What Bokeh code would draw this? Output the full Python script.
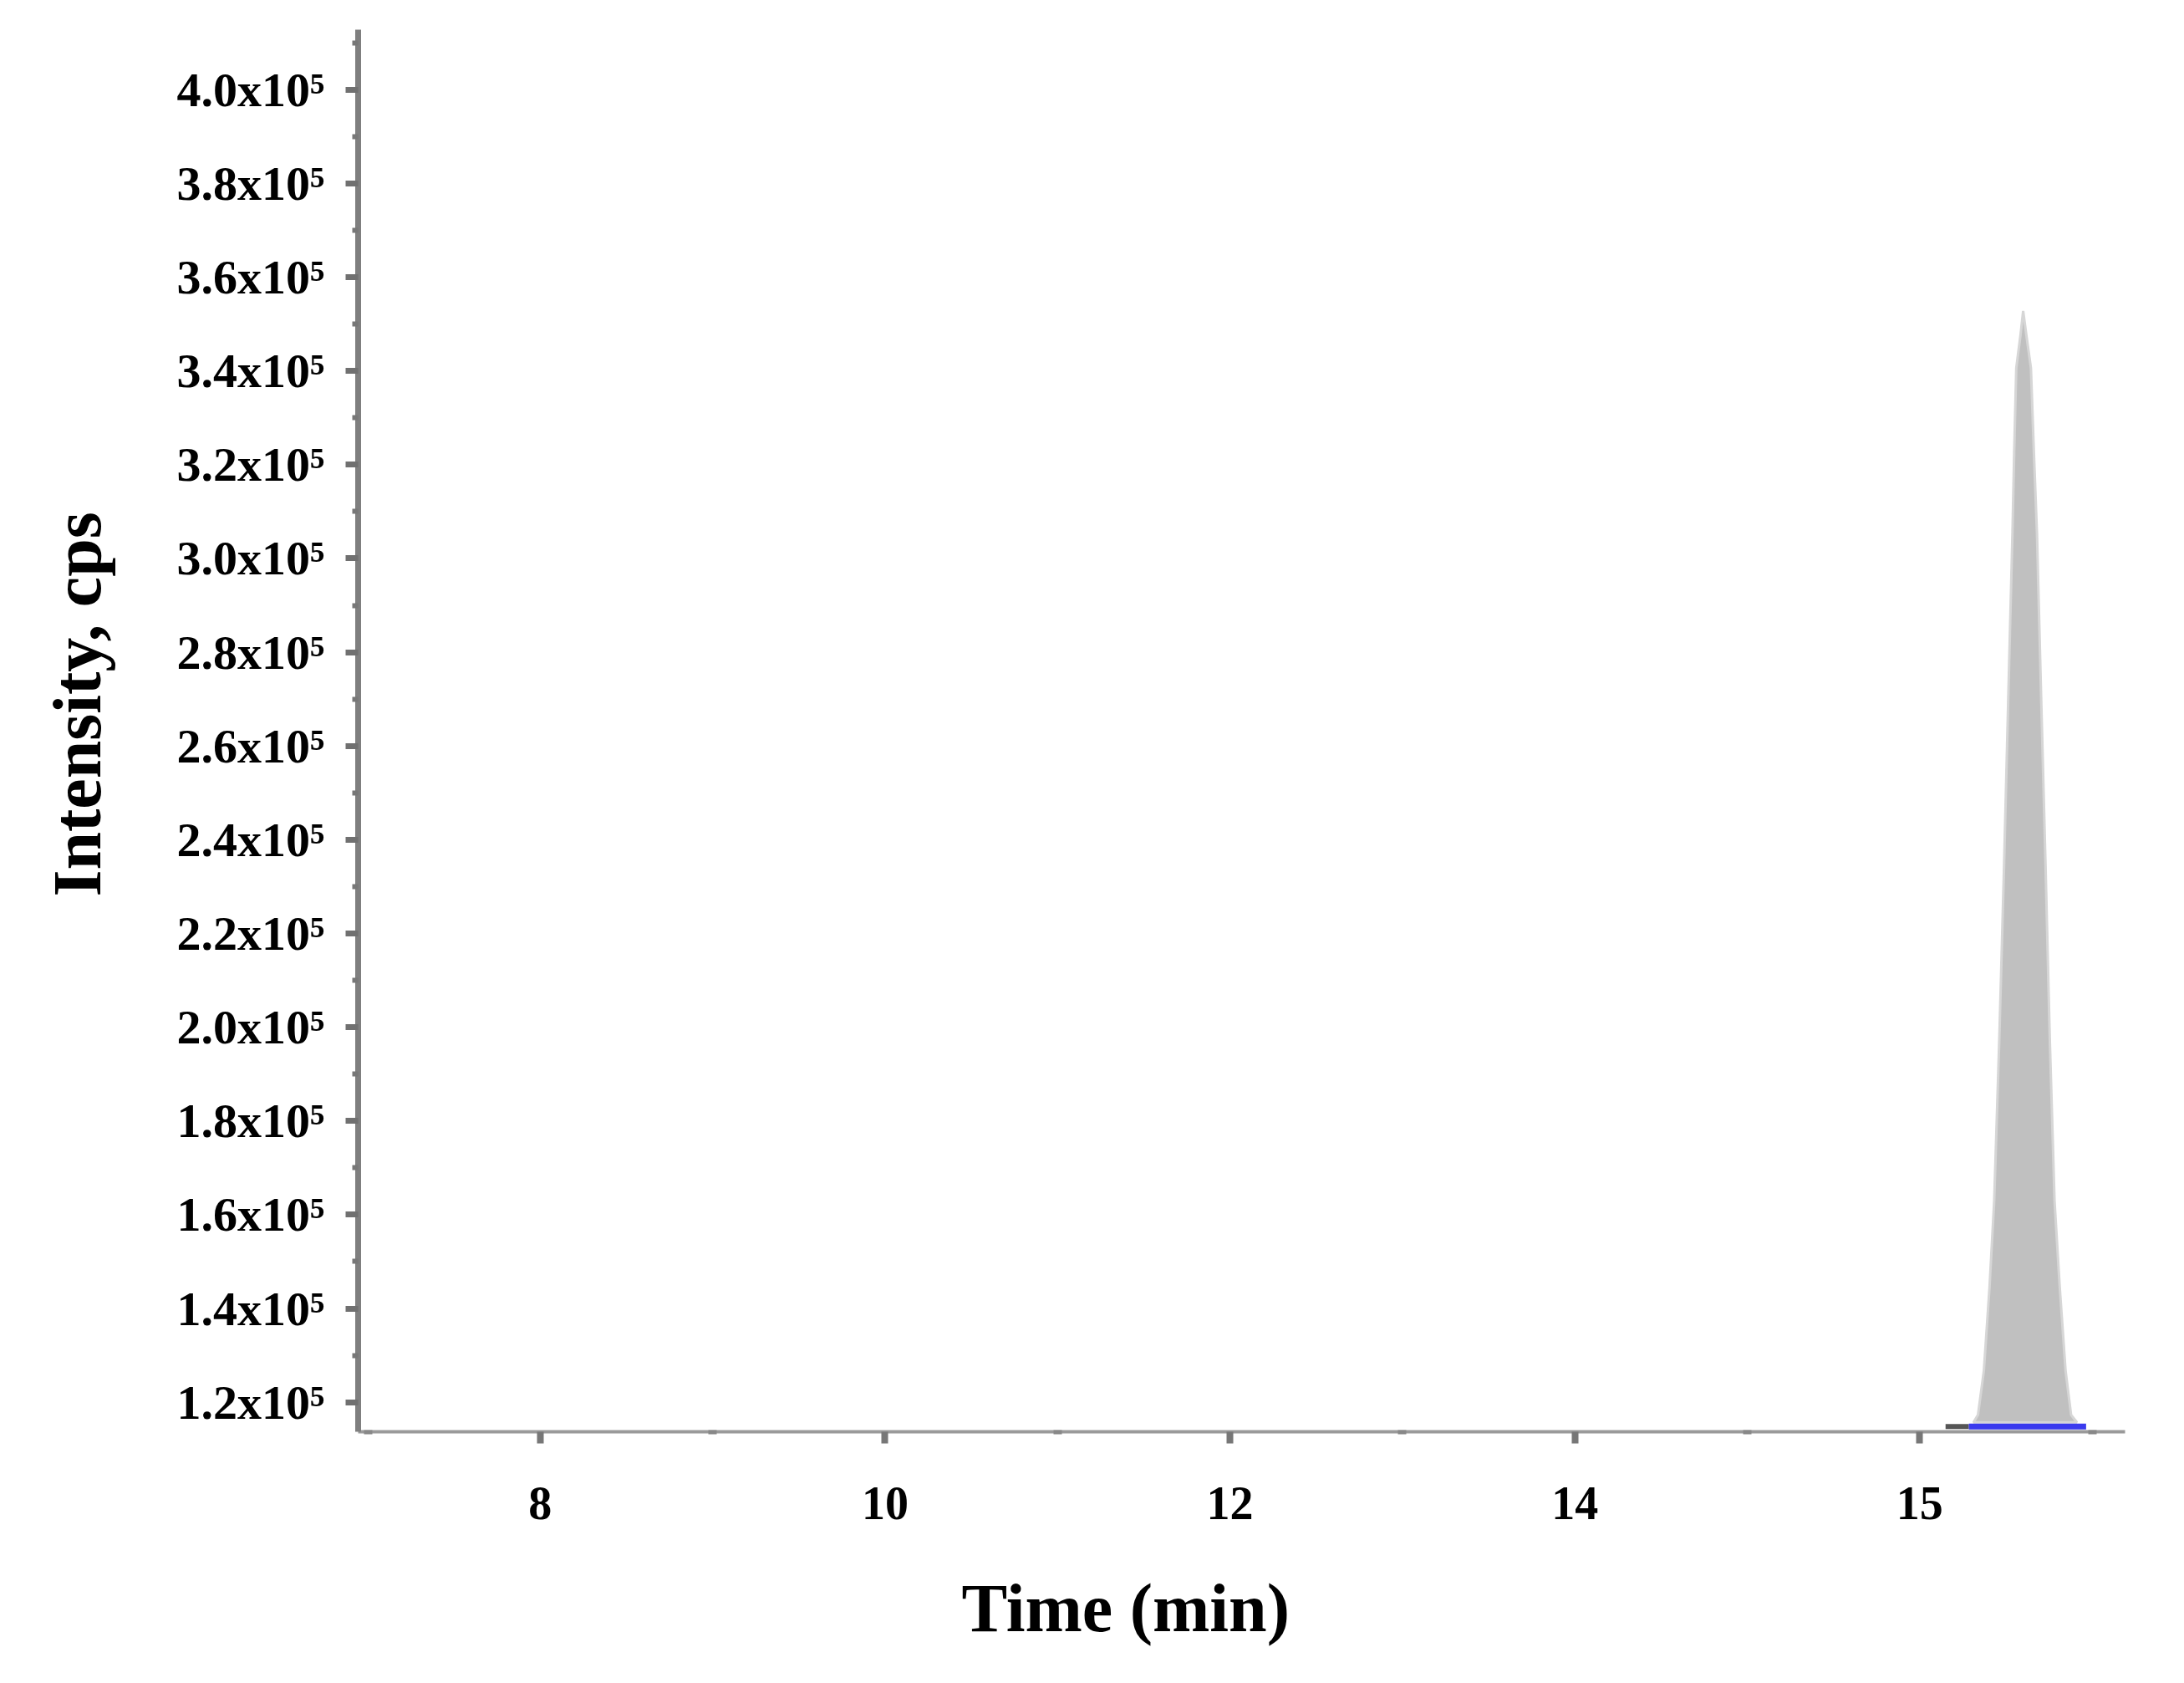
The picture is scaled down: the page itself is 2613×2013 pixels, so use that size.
from bokeh.plotting import figure
from bokeh.models import FixedTicker, Range1d, Title, LinearAxis
from bokeh.embed import file_html
from bokeh.resources import INLINE

# ---- data ----
peak_time = [16.312, 16.338, 16.372, 16.405, 16.432, 16.462, 16.489, 16.513, 16.538,
             16.548, 16.560, 16.585, 16.600, 16.618, 16.645, 16.662, 16.680, 16.705,
             16.730, 16.754, 16.782, 16.812, 16.846, 16.878, 16.912]
peak_intensity = [115700, 117300, 126700, 144600, 162900, 198000, 234200, 269300, 305500,
                  322800, 340600, 347800, 352800, 347800, 340600, 322800, 305500, 269300,
                  234200, 198000, 162900, 144600, 126700, 117300, 115700]

trace_time = [16.15, 16.285]
trace_intensity = [114800, 114800]

baseline_time = [16.285, 16.965]
baseline_intensity = [114800, 114800]

x_major = [8, 10, 12, 14, 16]
x_minor = [7, 9, 11, 13, 15, 17]
x_labels = ["8", "10", "12", "14", "15"]

y_major = [120000, 140000, 160000, 180000, 200000, 220000, 240000, 260000,
           280000, 300000, 320000, 340000, 360000, 380000, 400000]
y_minor = [130000, 150000, 170000, 190000, 210000, 230000, 250000, 270000,
           290000, 310000, 330000, 350000, 370000, 390000, 410000]
y_labels = ["1.2x10⁵", "1.4x10⁵", "1.6x10⁵", "1.8x10⁵", "2.0x10⁵", "2.2x10⁵",
            "2.4x10⁵", "2.6x10⁵", "2.8x10⁵", "3.0x10⁵", "3.2x10⁵", "3.4x10⁵",
            "3.6x10⁵", "3.8x10⁵", "4.0x10⁵"]

x_title = "Time (min)"
y_title = "Intensity, cps"

FONT = "Liberation Serif"

p = figure(width=2597, height=1997,
           x_range=Range1d(6.944, 17.191), y_range=Range1d(113700, 412800),
           output_backend="svg", toolbar_location=None,
           min_border_left=428, min_border_right=55,
           min_border_top=35, min_border_bottom=285)
p.grid.visible = False
p.outline_line_color = None
p.background_fill_color = "white"
p.border_fill_color = "white"

# peak
p.patch(peak_time, peak_intensity, fill_color="#c0c0c0", line_color="#d6d6d6", line_width=3)
p.line(trace_time, trace_intensity, line_color="#555555", line_width=6)
p.line(baseline_time, baseline_intensity, line_color="#3a3aee", line_width=7)

# x axis
xa = p.xaxis[0]
xa.ticker = FixedTicker(ticks=x_major, minor_ticks=x_minor)
xa.major_label_overrides = {v: s for v, s in zip(x_major, x_labels)}
xa.axis_line_color = "#9a9a9a"
xa.axis_line_width = 4
xa.major_tick_line_color = "#777777"
xa.major_tick_line_width = 8
xa.major_tick_out = 14
xa.major_tick_in = 0
xa.minor_tick_line_color = "#888888"
xa.minor_tick_line_width = 10
xa.minor_tick_out = 3
xa.minor_tick_in = 2
xa.major_label_text_font = FONT
xa.major_label_text_font_style = "bold"
xa.major_label_text_font_size = "56px"
xa.major_label_text_color = "black"
xa.major_label_standoff = 52

# y axis
ya = p.yaxis[0]
ya.ticker = FixedTicker(ticks=y_major, minor_ticks=y_minor)
ya.major_label_overrides = {v: s for v, s in zip(y_major, y_labels)}
ya.axis_line_color = "#7f7f7f"
ya.axis_line_width = 7
ya.major_tick_line_color = "#707070"
ya.major_tick_line_width = 7
ya.major_tick_out = 15
ya.major_tick_in = 0
ya.minor_tick_line_color = "#777777"
ya.minor_tick_line_width = 6
ya.minor_tick_out = 7
ya.minor_tick_in = 0
ya.major_label_text_font = FONT
ya.major_label_text_font_style = "bold"
ya.major_label_text_font_size = "58px"
ya.major_label_text_color = "black"
ya.major_label_standoff = 25


def spacer_axis(size, tick):
    # invisible axis: one hidden tick, no label; only reserves room between axis and title
    return LinearAxis(ticker=FixedTicker(ticks=[tick], minor_ticks=[]),
                      major_label_overrides={tick: ""},
                      major_tick_out=size, major_tick_in=0,
                      minor_tick_out=0, minor_tick_in=0, major_label_standoff=0,
                      axis_line_alpha=0, major_tick_line_alpha=0, minor_tick_line_alpha=0,
                      major_label_text_alpha=0)


p.add_layout(spacer_axis(53, x_major[1]), "below")
p.add_layout(spacer_axis(66, y_major[4]), "left")

# axis titles
xt = Title(text=x_title, align="left", offset=722, standoff=10,
           text_font=FONT, text_font_style="bold", text_font_size="82px",
           text_color="black", vertical_align="top")
p.add_layout(xt, "below")

yt = Title(text=y_title, align="left", offset=640, standoff=10,
           text_font=FONT, text_font_style="bold", text_font_size="82px",
           text_color="black", vertical_align="bottom")
p.add_layout(yt, "left")

open("out.html", "w").write(file_html(p, INLINE))
